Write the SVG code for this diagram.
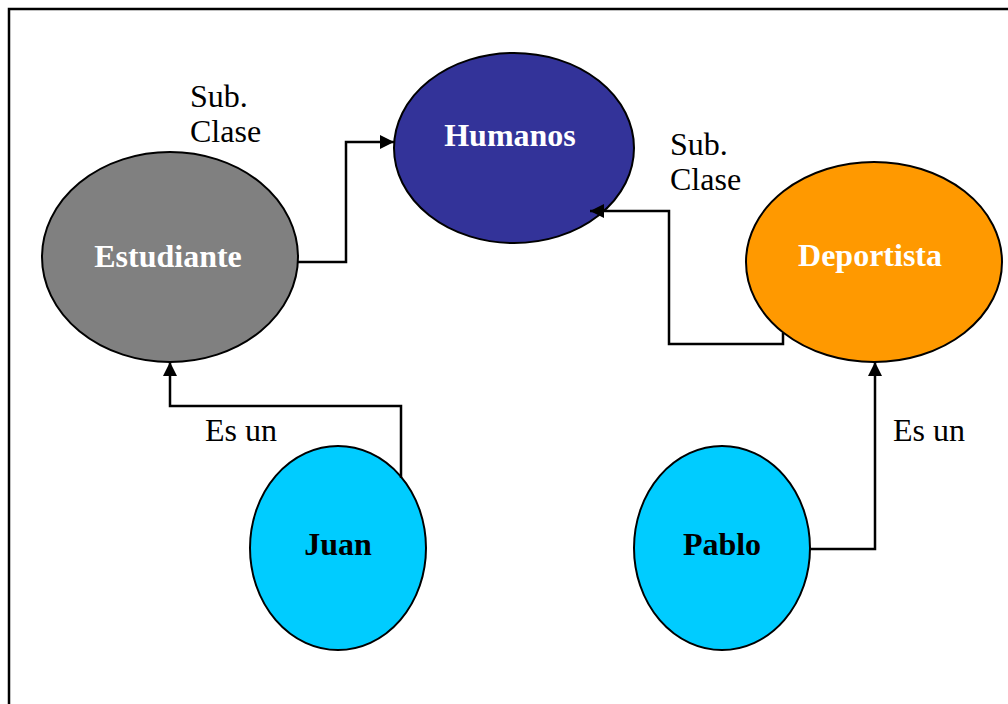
<svg xmlns="http://www.w3.org/2000/svg" width="1008" height="704" viewBox="0 0 1008 704">
  <style>
    .node { stroke: #000; stroke-width: 2; }
    .lbl { font-family: "Liberation Serif", "Times New Roman", serif; font-size: 32px; font-weight: bold; text-anchor: middle; }
    .note { font-family: "Liberation Serif", "Times New Roman", serif; font-size: 32px; fill: #000; }
    .conn { fill: none; stroke: #000; stroke-width: 2.5; marker-end: url(#arrow); }
  </style>
  <defs>
    <marker id="arrow" viewBox="0 0 10 10" refX="10" refY="5" markerWidth="16" markerHeight="14" markerUnits="userSpaceOnUse" orient="auto">
      <path d="M0,0 L10,5 L0,10 z" fill="#000"/>
    </marker>
  </defs>
  <rect width="1008" height="704" fill="#fff"/>
  <!-- frame -->
  <path d="M9,704 V9 H1008" fill="none" stroke="#000" stroke-width="2.5"/>

  <g id="humanos">
    <ellipse class="node" cx="514" cy="148" rx="120" ry="95" fill="#333399"/>
    <text class="lbl" x="510" y="146" fill="#fff">Humanos</text>
  </g>
  <g id="estudiante">
    <ellipse class="node" cx="170" cy="257" rx="128" ry="105" fill="#808080"/>
    <text class="lbl" x="168" y="267" fill="#fff">Estudiante</text>
  </g>
  <g id="deportista">
    <ellipse class="node" cx="874" cy="262" rx="128" ry="100" fill="#ff9900"/>
    <text class="lbl" x="870" y="266" fill="#fff">Deportista</text>
  </g>
  <g id="juan">
    <ellipse class="node" cx="338" cy="548" rx="88" ry="102" fill="#00ccff"/>
    <text class="lbl" x="338" y="555" fill="#000">Juan</text>
  </g>
  <g id="pablo">
    <ellipse class="node" cx="722" cy="548" rx="88" ry="102" fill="#00ccff"/>
    <text class="lbl" x="722" y="555" fill="#000">Pablo</text>
  </g>

  <g id="connectors">
    <path class="conn" d="M298,262 H346 V142 H394"/>
    <path class="conn" d="M783,333 V344 H669 V211 H590"/>
    <path class="conn" d="M401,478 V406 H170 V362"/>
    <path class="conn" d="M810,549 H875 V362"/>
  </g>

  <g id="labels">
    <text class="note" x="190" y="107">Sub.</text>
    <text class="note" x="190" y="142">Clase</text>
    <text class="note" x="670" y="155">Sub.</text>
    <text class="note" x="670" y="190">Clase</text>
    <text class="note" x="205" y="441">Es un</text>
    <text class="note" x="893" y="441">Es un</text>
  </g>
</svg>
